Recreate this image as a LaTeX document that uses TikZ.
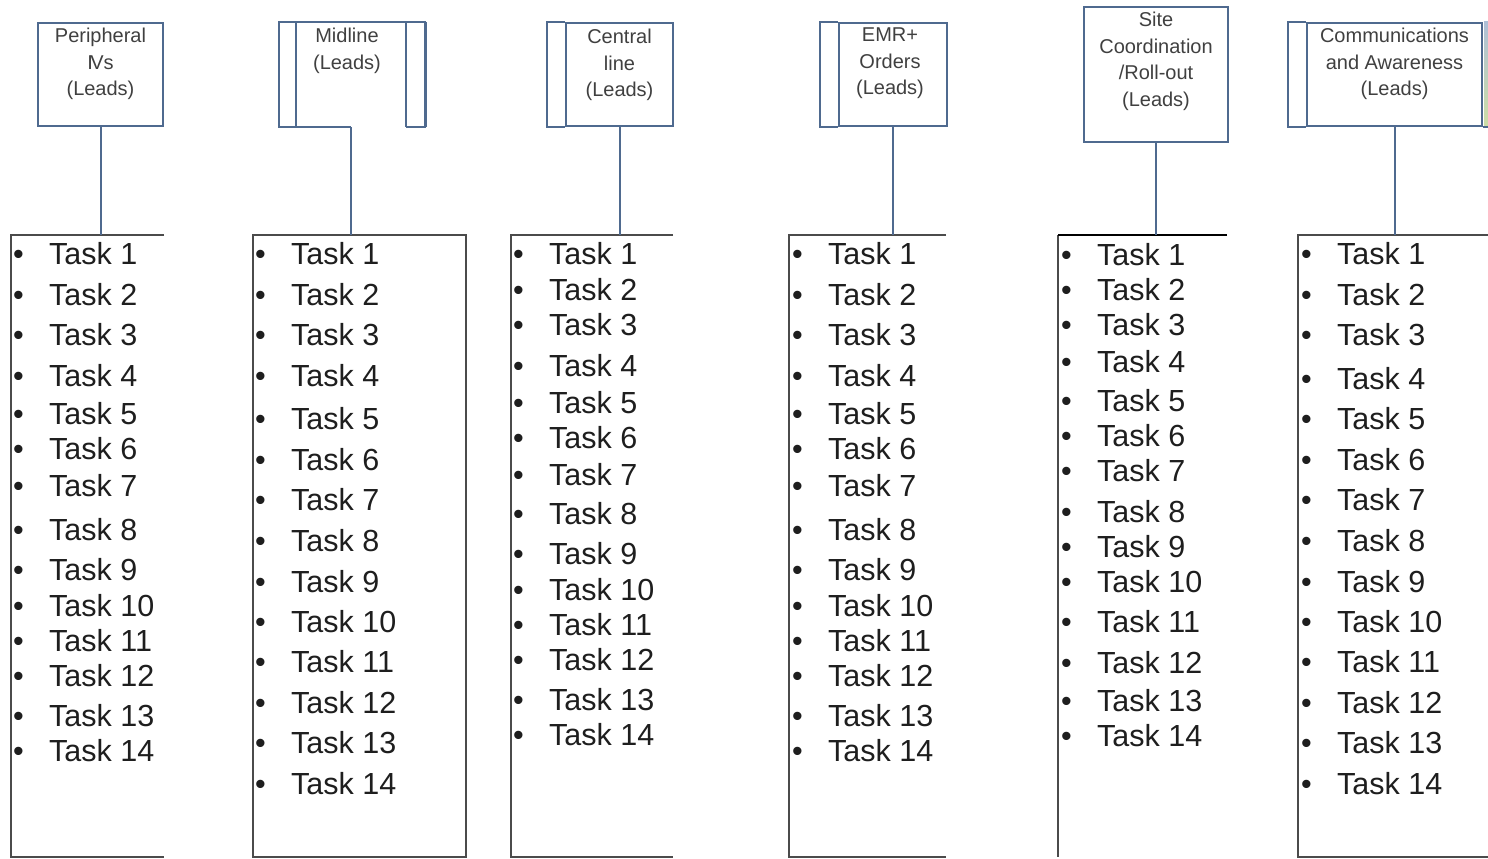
\documentclass[tikz,border=0pt]{standalone}
\usepackage{fontspec}
\setmainfont{Liberation Sans}
\usepackage{tikz}
\usetikzlibrary{positioning}

\definecolor{hdrblue}{RGB}{79,106,143}
\definecolor{hdrtext}{RGB}{64,64,64}
\definecolor{boxgray}{RGB}{75,75,75}
\definecolor{tasktext}{RGB}{30,30,30}
\definecolor{stripblue}{RGB}{175,192,215}
\definecolor{stripgreen}{RGB}{205,222,165}

\newcommand{\taskitem}[1]{\makebox[36pt][l]{\textbullet}Task #1}

\begin{document}
\begin{tikzpicture}[x=1pt, y=-1pt,
  hdr/.style={draw=hdrblue, line width=2pt, minimum height=103pt, inner sep=0pt},
  hdrline/.style={draw=hdrblue, line width=2pt},
  hdrlabel/.style={text=hdrtext, align=center, anchor=north, inner sep=0pt, font=\fontsize{20}{26.5}\selectfont},
  tasks/.style={minimum height=622pt, inner sep=0pt},
  boxline/.style={draw=boxgray, line width=1.5pt},
  link/.style={draw=hdrblue, line width=2pt},
  item/.style={anchor=west, inner sep=0pt, text=tasktext, text height=22pt, text depth=0pt, font=\fontsize{30.5}{31}\selectfont}]
\useasboundingbox (0,0) rectangle (1488,859);

% header boxes
\node[hdr, minimum width=125pt] (h1) at (100.5,74.5) {};
\node[hdr, draw=none, minimum width=108pt] (h2) at (351,74.5) {};
\node[hdr, minimum width=107pt] (h3) at (619.5,74.5) {};
\node[hdr, minimum width=108pt] (h4) at (893,74.5) {};
\node[hdr, minimum width=144pt, minimum height=135pt] (h5) at (1156,74.5) {};
\node[hdr, minimum width=175pt] (h6) at (1394.5,74.5) {};

\draw[hdrline] (h2.south) -| ([xshift=-17pt]h2.north west) -| ([xshift=19pt]h2.south east) -- (h2.south east);
\draw[hdrline] (h2.north west) -- (h2.south west) (h2.north east) -- (h2.south east);
\draw[hdrline, line width=3pt] ([xshift=19pt]h2.north east) -- ([xshift=19pt]h2.south east);
\foreach \h in {h3,h4,h6}
  \draw[hdrline] (\h.north west) -- ++(-18,0) |- (\h.south west);
\shade[top color=stripblue, bottom color=stripgreen] ([xshift=1pt]h6.north east) rectangle ([xshift=10pt]h6.south east);
\draw[hdrline] (h6.south east) -- ++(10,0);

\node[hdrlabel] (l1) at ([yshift=-6pt]h1.north) {Peripheral\\I\kern-2.5pt Vs\\(Leads)};
\node[hdrlabel] (l2) at ([xshift=-4pt, yshift=-6pt]h2.north) {Midline\\(Leads)};
\node[hdrlabel] (l3) at ([yshift=-7pt]h3.north) {Central\\line\\(Leads)};
\node[hdrlabel] (l4) at ([xshift=-3pt, yshift=-6pt]h4.north) {EMR+\\Orders\\(Leads)};
\node[hdrlabel] (l5) at ([yshift=-6pt]h5.north) {Site\\Coordination\\/Roll-out\\(Leads)};
\node[hdrlabel] (l6) at ([yshift=-6pt]h6.north) {Communications\\and Awareness\\(Leads)};

% task boxes
\node[tasks, minimum width=153pt] (t1) at (87.5,546) {};
\node[tasks, minimum width=213pt] (t2) at (359.5,546) {};
\node[tasks, minimum width=162pt] (t3) at (592,546) {};
\node[tasks, minimum width=157pt] (t4) at (867.5,546) {};
\node[tasks, minimum width=169pt] (t5) at (1142.5,546) {};
\node[tasks, minimum width=192pt] (t6) at (1394,546) {};

\foreach \t in {t1,t3,t4,t6}
  \draw[boxline] (\t.north east) -- (\t.north west) -- (\t.south west) -- (\t.south east);
\draw[boxline] (t2.north west) rectangle (t2.south east);
\draw[boxline] (t5.north west) -- (t5.south west);
\draw[boxline, draw=black] (t5.north east) -- (t5.north west);

\foreach \i in {1,...,6}
  \draw[link] (h\i.south) -- (h\i.south |- t\i.north);

% task lists
\foreach \y [count=\n] in {253,294,334,375,413,448,485,529,569,605,640,675,715,750}
  \node[item] (c1-\n) at (13,\y) {\taskitem{\n}};
\foreach \y [count=\n] in {253,294,334,375,418,459,499,540,581,621,661,702,742,783}
  \node[item] (c2-\n) at (255,\y) {\taskitem{\n}};
\foreach \y [count=\n] in {253,289,324,365,402,437,474,513,553,589,624,659,699,734}
  \node[item] (c3-\n) at (513,\y) {\taskitem{\n}};
\foreach \y [count=\n] in {253,294,334,375,413,448,485,529,569,605,640,675,715,750}
  \node[item] (c4-\n) at (792,\y) {\taskitem{\n}};
\foreach \y [count=\n] in {254,289,324,361,400,435,470,511,546,581,621,662,700,735}
  \node[item] (c5-\n) at (1061,\y) {\taskitem{\n}};
\foreach \y [count=\n] in {253,294,334,378,418,459,499,540,581,621,661,702,742,783}
  \node[item] (c6-\n) at (1301,\y) {\taskitem{\n}};
\end{tikzpicture}
\end{document}
